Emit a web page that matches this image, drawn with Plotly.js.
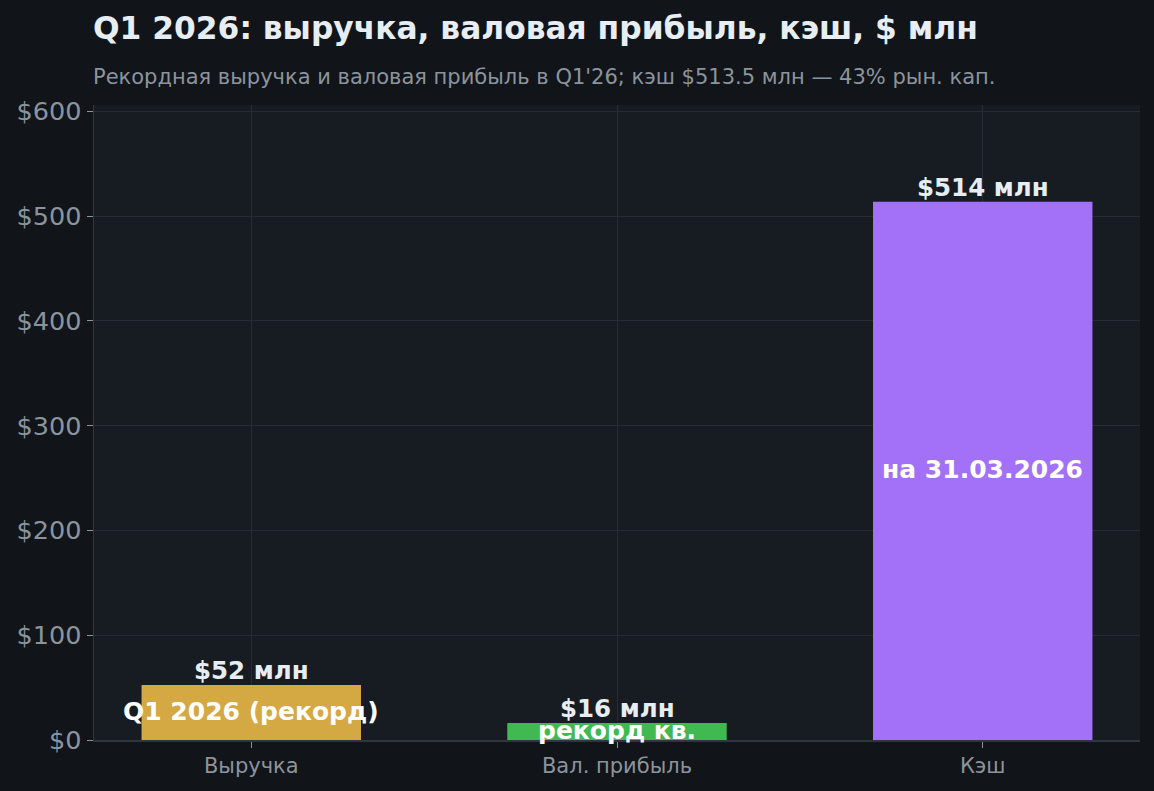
<!DOCTYPE html>
<html><head><meta charset="utf-8">
<script src="https://cdn.plot.ly/plotly-3.0.1.min.js"></script>
<style>html,body{margin:0;padding:0;background:#111418;}</style>
</head><body><div id="chart" style="width:1154px;height:791px;"></div>
<script>
const categories = ["Выручка", "Вал. прибыль", "Кэш"];
const values = [52.4, 16.2, 513.5];
const innerLabels = ["Q1 2026 (рекорд)", "рекорд кв.", "на 31.03.2026"];
const barColors = ["#d4a843", "#3fb950", "#a371f7"];
const yTickVals = [0, 100, 200, 300, 400, 500, 600];
const yTickText = ["$0", "$100", "$200", "$300", "$400", "$500", "$600"];
const titleText = "Q1 2026: выручка, валовая прибыль, кэш, $ млн";
const subtitleText = "Рекордная выручка и валовая прибыль в Q1'26; кэш $513.5 млн — 43% рын. кап.";

const FONT = "DejaVu Sans, sans-serif";
const ymax = Math.max(...values) * 1.18;
const PLOT_TOP = 105, PLOT_BOTTOM = 740;
const py = p => (PLOT_BOTTOM - p) / (PLOT_BOTTOM - PLOT_TOP);

const annotations = [];
categories.forEach((c, i) => {
  annotations.push({x: c, y: values[i], xref: "x", yref: "y", yanchor: "bottom", yshift: -2,
    text: "<b>$" + Math.round(values[i]) + " млн</b>", showarrow: false,
    font: {family: FONT, size: 24.5, color: "#e6edf3"}});
  annotations.push({x: c, y: values[i] / 2, xref: "x", yref: "y", yanchor: "middle", yshift: 1,
    text: "<b>" + innerLabels[i] + "</b>", showarrow: false,
    font: {family: FONT, size: 25, color: "#ffffff"}});
});
annotations.push({x: 0, y: py(28), xref: "paper", yref: "paper", xanchor: "left", yanchor: "middle",
  xshift: -3, text: "<b>" + titleText + "</b>", showarrow: false, font: {family: FONT, size: 31.3, color: "#e6edf3"}});
annotations.push({x: 0, y: py(77), xref: "paper", yref: "paper", xanchor: "left", yanchor: "middle",
  xshift: -3, text: subtitleText, showarrow: false, font: {family: FONT, size: 21, color: "#8b949e"}});

const trace = {type: "bar", x: categories, y: values, width: 0.6,
  marker: {color: barColors, line: {width: 0}}, hoverinfo: "skip"};

const layout = {
  width: 1154, height: 791,
  paper_bgcolor: "#111418", plot_bgcolor: "#171b22",
  margin: {l: 94, r: 14, t: 105, b: 51},
  showlegend: false,
  font: {family: FONT, color: "#8b949e"},
  xaxis: {range: [-0.43, 2.43], showgrid: true, gridcolor: "#262b35", gridwidth: 1,
    ticks: "outside", ticklen: 6, tickcolor: "#8b949e", tickwidth: 1,
    tickfont: {family: FONT, size: 21, color: "#8b949e"},
    showline: true, linecolor: "#30363d", linewidth: 1.5, zeroline: false, fixedrange: true},
  yaxis: {range: [0, ymax], tickvals: yTickVals, ticktext: yTickText,
    showgrid: true, gridcolor: "#262b35", gridwidth: 1,
    ticks: "outside", ticklen: 6, tickcolor: "#8b949e", tickwidth: 1,
    tickfont: {family: FONT, size: 25.5, color: "#8b949e"},
    showline: true, linecolor: "#30363d", linewidth: 1.5, zeroline: false, fixedrange: true},
  annotations: annotations
};
Plotly.newPlot("chart", [trace], layout, {displayModeBar: false, staticPlot: true});
</script></body></html>
